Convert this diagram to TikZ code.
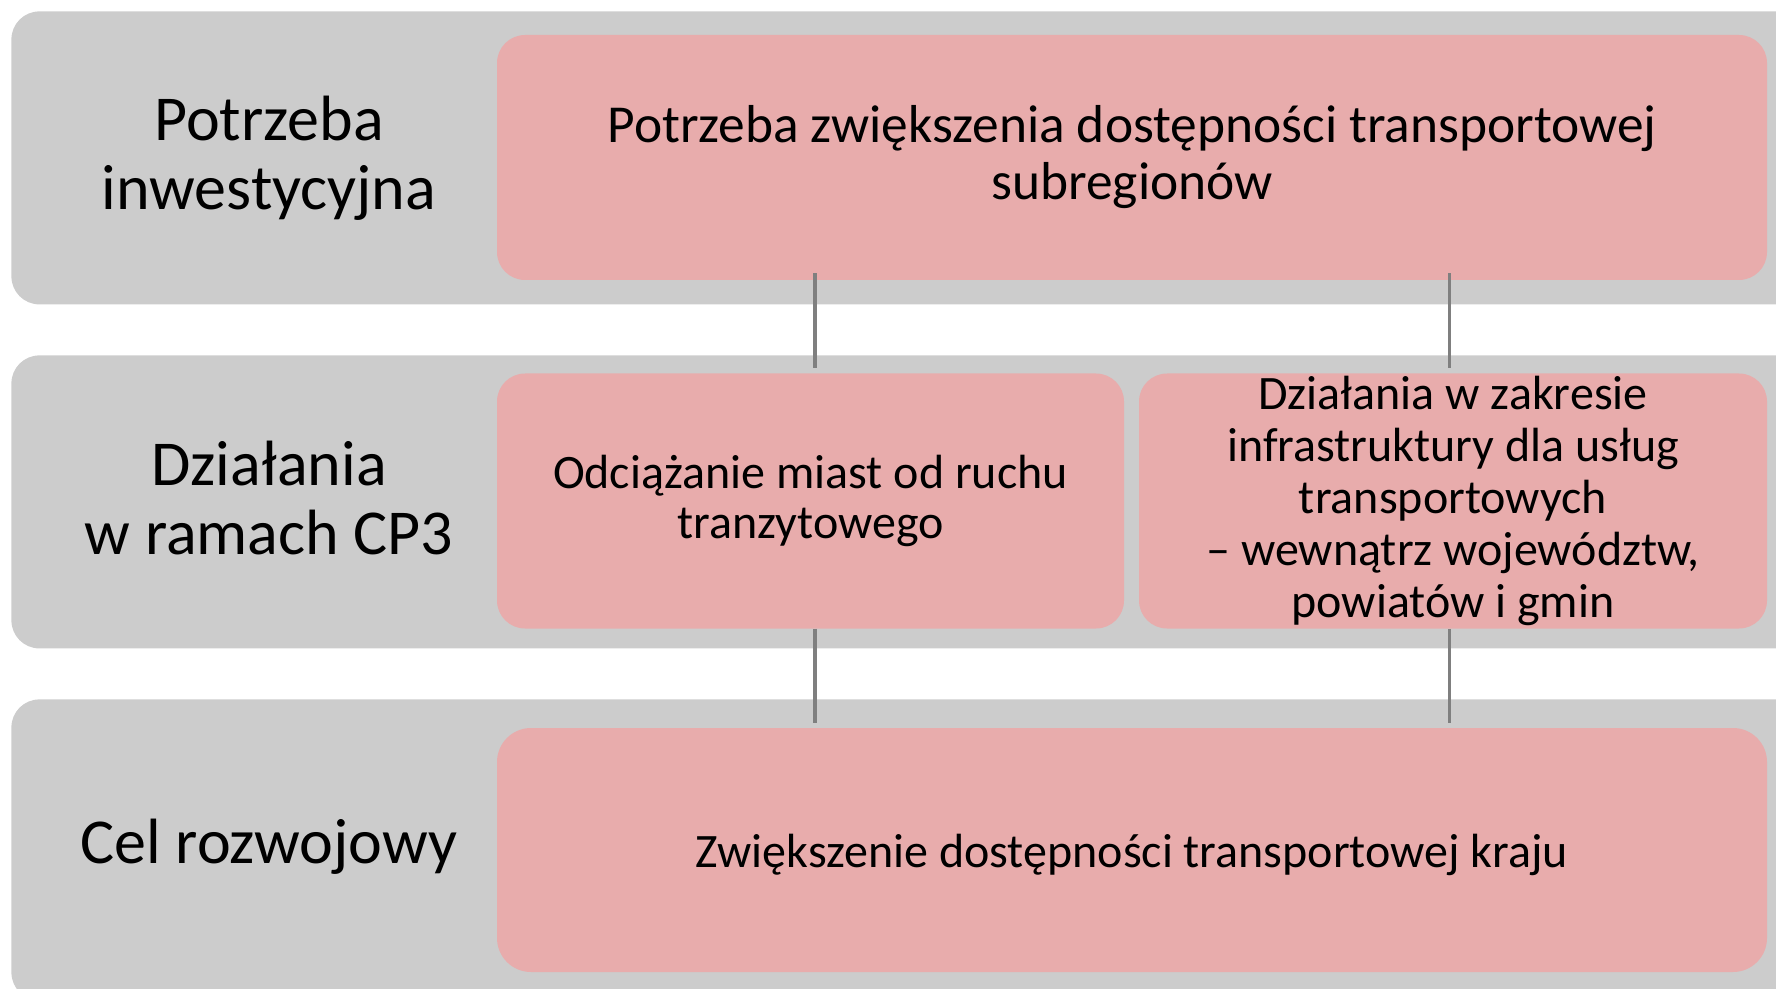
\documentclass[tikz,border=0pt]{standalone}
\usepackage{fontspec}
\setmainfont{Carlito}
\definecolor{bandgray}{HTML}{CCCCCC}
\definecolor{boxpink}{HTML}{E8ACAC}
\definecolor{linkgray}{HTML}{7F7F7F}

\begin{document}
\begin{tikzpicture}
  [x=0.5pt,y=-0.5pt,
   band/.style={rectangle,rounded corners=14pt,fill=bandgray,anchor=north west,
     minimum width=900pt,minimum height=146.5pt,inner sep=0pt},
   rowlabel/.style={align=center,font=\fontsize{32}{34.5}\selectfont},
   pinkbox/.style={rectangle,rounded corners=14pt,fill=boxpink,align=center,inner sep=0pt},
   link/.style={draw=linkgray,line width=1.6pt,shorten >=2.5pt}]
  \clip (0,0) rectangle (1776,989);

  \node[band] (b1) at (11,11) {};
  \node[band] (b2) at (11,355) {};
  \node[band,minimum height=150.5pt] (b3) at (11,699) {};

  \node[rowlabel] (l1) at (269,158) {Potrzeba\\inwestycyjna};
  \node[rowlabel] (l2) at (269,498) {Działania\\w ramach CP3};
  \node[rowlabel] (l3) at (269,847) {Cel rozwojowy};

  \node[pinkbox,minimum width=635pt,minimum height=122.5pt,
    font=\fontsize{26.7}{28.5}\selectfont] (need) at (1132,157.5)
    {Potrzeba zwiększenia dostępności transportowej\\subregionów};
  \node[pinkbox,minimum width=313.5pt,minimum height=127.5pt,
    font=\fontsize{24}{25}\selectfont] (act1) at (810.5,501)
    {Odciążanie miast od ruchu\\tranzytowego};
  \node[pinkbox,minimum width=314pt,minimum height=127.5pt,
    font=\fontsize{24}{26}\selectfont] (act2) at (1453,501)
    {Działania w zakresie\\infrastruktury dla usług\\transportowych\\– wewnątrz województw,\\powiatów i gmin};
  \node[pinkbox,minimum width=635pt,minimum height=122pt,rounded corners=17pt,
    font=\fontsize{24}{25}\selectfont] (goal) at (1132,850)
    {\raisebox{-2.5pt}[\height][\depth]{Zwiększenie dostępności transportowej kraju}};

  \foreach \a/\dx in {act1/2.2pt, act2/-1.7pt} {
    \draw[link,shorten <=-3.5pt] ([xshift=\dx]\a.north |- need.south) -- ([xshift=\dx]\a.north);
    \draw[link] ([xshift=\dx]\a.south) -- ([xshift=\dx]\a.south |- goal.north);
  }

\end{tikzpicture}
\end{document}
